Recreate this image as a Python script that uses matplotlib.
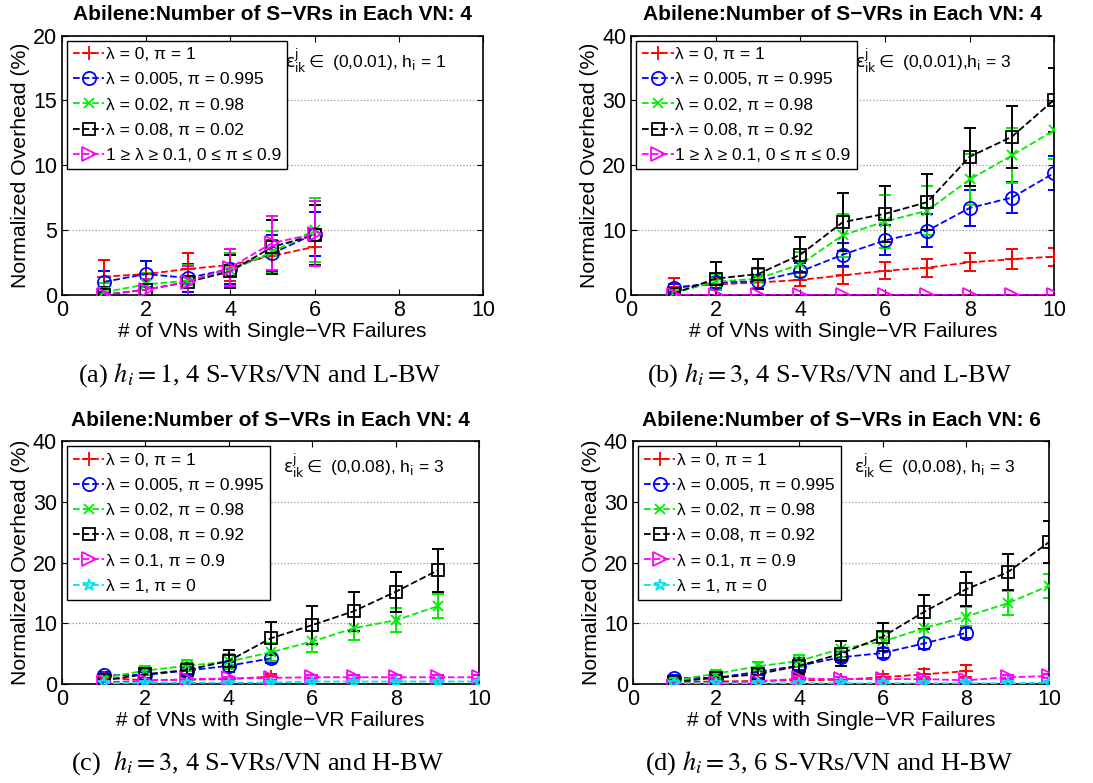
import numpy as np
import matplotlib
matplotlib.use("Agg")
import matplotlib.pyplot as plt

plt.rcParams['font.family'] = ['Liberation Sans', 'DejaVu Sans']

# x positions (# of VNs with single-VR failures)
x6 = [1, 2, 3, 4, 5, 6]
x10 = [1, 2, 3, 4, 5, 6, 7, 8, 9, 10]
x9 = [1, 2, 3, 4, 5, 6, 7, 8, 9]
x8 = [1, 2, 3, 4, 5, 6, 7, 8]
x5 = [1, 2, 3, 4, 5]

# panel (a)
a_red = [1.4, 1.6, 2.0, 2.3, 3.0, 3.7]
a_red_err = [1.3, 1.0, 1.2, 1.2, 1.2, 1.4]
a_blue = [1.0, 1.6, 1.3, 2.0, 3.2, 4.7]
a_blue_err = [0.8, 1.0, 1.1, 1.2, 1.4, 1.7]
a_green = [0.2, 0.8, 1.1, 1.9, 3.3, 5.0]
a_green_err = [0.7, 0.9, 1.2, 1.3, 1.6, 2.5]
a_black = [0.0, 0.4, 1.0, 1.8, 3.7, 4.6]
a_black_err = [0.6, 0.8, 1.2, 1.3, 2.1, 2.3]
a_mag = [0.0, 0.4, 1.0, 2.1, 4.0, 4.7]
a_mag_err = [0.5, 0.8, 1.2, 1.4, 2.1, 2.5]

# panel (b)
b_red = [1.2, 1.6, 1.9, 2.3, 3.0, 3.7, 4.2, 5.0, 5.5, 5.9]
b_red_err = [1.4, 0.8, 0.8, 1.0, 1.3, 1.3, 1.4, 1.4, 1.5, 1.4]
b_blue = [1.0, 1.9, 2.1, 3.6, 6.2, 8.4, 9.9, 13.4, 15.0, 18.8]
b_blue_err = [0.6, 0.9, 1.0, 1.3, 1.8, 2.3, 2.5, 2.8, 2.4, 2.6]
b_green = [0.3, 2.0, 2.5, 4.7, 9.2, 11.3, 13.0, 17.8, 21.5, 25.4]
b_green_err = [0.6, 1.2, 1.5, 1.9, 3.3, 4.1, 3.8, 3.9, 4.2, 4.4]
b_black = [0.2, 2.5, 3.2, 6.2, 11.2, 12.5, 14.3, 21.3, 24.4, 30.1]
b_black_err = [0.8, 2.6, 2.3, 2.7, 4.5, 4.3, 4.3, 4.5, 4.8, 4.9]
b_mag = [0, 0, 0, 0, 0, 0, 0, 0, 0, 0]
b_mag_err = [0, 0, 0, 0, 0, 0, 0, 0, 0, 0]

# panel (c)
c_red = [1.0, 0.6, 0.7, 0.8, 1.2]
c_red_err = [0.9, 0.4, 0.4, 0.4, 0.5]
c_blue = [1.4, 1.5, 2.2, 3.0, 4.2]
c_blue_err = [0.5, 0.5, 0.6, 0.6, 0.7]
c_green = [1.0, 2.2, 3.0, 3.7, 5.2, 7.0, 9.2, 10.5, 12.8]
c_green_err = [0.6, 0.8, 0.9, 1.2, 1.5, 1.8, 1.9, 2.0, 2.0]
c_black = [0.6, 1.6, 2.3, 3.8, 7.5, 9.7, 12.0, 15.2, 18.7]
c_black_err = [0.5, 0.8, 1.2, 1.8, 2.7, 3.1, 3.2, 3.3, 3.6]
c_mag = [0.3, 0.5, 0.8, 0.9, 1.0, 1.1, 1.1, 1.1, 1.1, 1.1]
c_mag_err = [0.4, 0.3, 0.3, 0.3, 0.3, 0.3, 0.3, 0.3, 0.3, 0.3]
c_cyan = [0.1, 0.2, 0.2, 0.2, 0.2, 0.4, 0.4, 0.4, 0.4, 0.4]
c_cyan_err = [0.1, 0.1, 0.1, 0.1, 0.1, 0.1, 0.1, 0.1, 0.1, 0.1]

# panel (d)
d_red = [0.3, 0.4, 0.5, 0.6, 0.7, 1.1, 1.6, 2.1]
d_red_err = [0.3, 0.3, 0.4, 0.4, 0.5, 0.6, 0.8, 1.0]
d_blue = [1.0, 1.0, 2.0, 3.0, 4.4, 5.1, 6.7, 8.4]
d_blue_err = [0.4, 0.5, 0.6, 0.7, 0.8, 0.8, 0.9, 0.9]
d_green = [0.6, 1.7, 2.9, 3.8, 5.8, 7.0, 9.2, 11.1, 13.3, 16.2]
d_green_err = [0.4, 0.6, 0.7, 1.0, 1.3, 1.5, 1.6, 1.6, 2.0, 2.0]
d_black = [0.4, 1.0, 1.6, 3.0, 5.0, 7.8, 11.9, 15.6, 18.4, 23.4]
d_black_err = [0.3, 0.5, 0.8, 1.3, 2.1, 2.3, 2.8, 2.8, 3.0, 3.5]
d_mag = [-0.3, 0.1, 0.4, 0.9, 0.8, 0.8, 0.8, 0.6, 1.1, 1.3]
d_mag_err = [0.2, 0.3, 0.3, 0.4, 0.3, 0.3, 0.3, 0.3, 0.3, 0.3]
d_cyan = [0.1, 0.1, 0.1, 0.1, 0.1, 0.1, 0.1, 0.1, 0.1, 0.2]
d_cyan_err = [0.1, 0.1, 0.1, 0.1, 0.1, 0.1, 0.1, 0.1, 0.1, 0.1]

lab_red = u'\u03bb = 0, \u03c0 = 1'
lab_blue = u'\u03bb = 0.005, \u03c0 = 0.995'
lab_green = u'\u03bb = 0.02, \u03c0 = 0.98'
lab_black_a = u'\u03bb = 0.08, \u03c0 = 0.02'
lab_black = u'\u03bb = 0.08, \u03c0 = 0.92'
lab_range = u'1 \u2265 \u03bb \u2265 0.1, 0 \u2264 \u03c0 \u2264 0.9'
lab_mag = u'\u03bb = 0.1, \u03c0 = 0.9'
lab_cyan = u'\u03bb = 1, \u03c0 = 0'

STYLES = {
    'red': dict(color='#ff0000', marker='+', ms=10),
    'blue': dict(color='#0000ff', marker='o', ms=9.5),
    'green': dict(color='#00ee00', marker='x', ms=7),
    'black': dict(color='black', marker='s', ms=8),
    'mag': dict(color='#ff00ff', marker='>', ms=10),
    'cyan': dict(color='#00e5ee', marker='*', ms=9),
}

W, H = 1093, 783


def draw_panel(ax, series, ymax, yticks, title, note, caption, cap_xy):
    handles = []
    for key, xs, ys, errs, label in series:
        st = STYLES[key]
        ax.errorbar(xs, ys, yerr=errs, fmt='none', ecolor=st['color'],
                    elinewidth=1.4, capsize=4, capthick=1.4, zorder=2)
        h, = ax.plot(xs, ys, linestyle='--', linewidth=1.3, color=st['color'],
                     marker=st['marker'], markersize=st['ms'],
                     markerfacecolor='none', markeredgewidth=1.3,
                     label=label, zorder=3)
        handles.append(h)
    ax.set_xlim(0, 10)
    ax.set_ylim(0, ymax)
    ax.set_xticks([0, 2, 4, 6, 8, 10])
    ax.set_yticks(yticks)
    ax.tick_params(direction='in', top=True, right=True, length=4,
                   labelsize=15.5, pad=3.5)
    ax.tick_params(axis='x', pad=3.5)
    ax.yaxis.grid(True, linestyle=':', color='#999999', linewidth=0.9)
    ax.set_axisbelow(True)
    for sp in ax.spines.values():
        sp.set_linewidth(1.2)
    ax.set_xlabel('# of VNs with Single\u2212VR Failures', fontsize=15, labelpad=1)
    ax.set_ylabel('Normalized Overhead (%)', fontsize=15.3, labelpad=2)
    ax.set_title(title, fontsize=15, fontweight='bold', pad=11)
    leg = ax.legend(handles=handles, loc='upper left', fontsize=12.5,
                    frameon=True, fancybox=False, framealpha=1,
                    edgecolor='black', borderaxespad=0.3, handlelength=1.8,
                    handletextpad=0.1, labelspacing=0.58, borderpad=0.35)
    leg.get_frame().set_linewidth(1.0)
    leg.set_zorder(5)
    ax.text(0.53, 0.96, note, transform=ax.transAxes, fontsize=12.5,
            va='top', ha='left', math_fontfamily='dejavusans')
    ax.figure.text(cap_xy[0] / W, 1 - cap_xy[1] / H, caption,
                   ha='center', va='center', fontsize=19,
                   family='Liberation Serif', math_fontfamily='stix')


fig = plt.figure(figsize=(10.93, 7.83), dpi=100)
ax_a = fig.add_axes([0.0565, 0.6235, 0.3855, 0.3310])
ax_b = fig.add_axes([0.5775, 0.6235, 0.3870, 0.3310])
ax_c = fig.add_axes([0.0565, 0.1265, 0.3820, 0.3100])
ax_d = fig.add_axes([0.5790, 0.1265, 0.3810, 0.3100])

draw_panel(ax_a, [
    ('red', x6, a_red, a_red_err, lab_red),
    ('blue', x6, a_blue, a_blue_err, lab_blue),
    ('green', x6, a_green, a_green_err, lab_green),
    ('black', x6, a_black, a_black_err, lab_black_a),
    ('mag', x6, a_mag, a_mag_err, lab_range),
], 20, [0, 5, 10, 15, 20], 'Abilene:Number of S\u2212VRs in Each VN: 4',
    r'$\mathrm{\varepsilon^{j}_{ik}} \in$ (0,0.01), h$_{\rm i}$ = 1',
    r'(a) $h_i = 1$, 4 S-VRs/VN and L-BW', (260, 375))

draw_panel(ax_b, [
    ('red', x10, b_red, b_red_err, lab_red),
    ('blue', x10, b_blue, b_blue_err, lab_blue),
    ('green', x10, b_green, b_green_err, lab_green),
    ('black', x10, b_black, b_black_err, lab_black),
    ('mag', x10, b_mag, b_mag_err, lab_range),
], 40, [0, 10, 20, 30, 40], 'Abilene:Number of S\u2212VRs in Each VN: 4',
    r'$\mathrm{\varepsilon^{j}_{ik}} \in$ (0,0.01),h$_{\rm i}$ = 3',
    r'(b) $h_i = 3$, 4 S-VRs/VN and L-BW', (830, 375))

draw_panel(ax_c, [
    ('red', x5, c_red, c_red_err, lab_red),
    ('blue', x5, c_blue, c_blue_err, lab_blue),
    ('green', x9, c_green, c_green_err, lab_green),
    ('black', x9, c_black, c_black_err, lab_black),
    ('mag', x10, c_mag, c_mag_err, lab_mag),
    ('cyan', x10, c_cyan, c_cyan_err, lab_cyan),
], 40, [0, 10, 20, 30, 40], 'Abilene:Number of S\u2212VRs in Each VN: 4',
    r'$\mathrm{\varepsilon^{j}_{ik}} \in$ (0,0.08), h$_{\rm i}$ = 3',
    r'(c)  $h_i = 3$, 4 S-VRs/VN and H-BW', (258, 763))

draw_panel(ax_d, [
    ('red', x8, d_red, d_red_err, lab_red),
    ('blue', x8, d_blue, d_blue_err, lab_blue),
    ('green', x10, d_green, d_green_err, lab_green),
    ('black', x10, d_black, d_black_err, lab_black),
    ('mag', x10, d_mag, d_mag_err, lab_mag),
    ('cyan', x10, d_cyan, d_cyan_err, lab_cyan),
], 40, [0, 10, 20, 30, 40], 'Abilene:Number of S\u2212VRs in Each VN: 6',
    r'$\mathrm{\varepsilon^{j}_{ik}} \in$ (0,0.08), h$_{\rm i}$ = 3',
    r'(d) $h_i = 3$, 6 S-VRs/VN and H-BW', (829, 763))

fig.savefig('out.png', dpi=100)
